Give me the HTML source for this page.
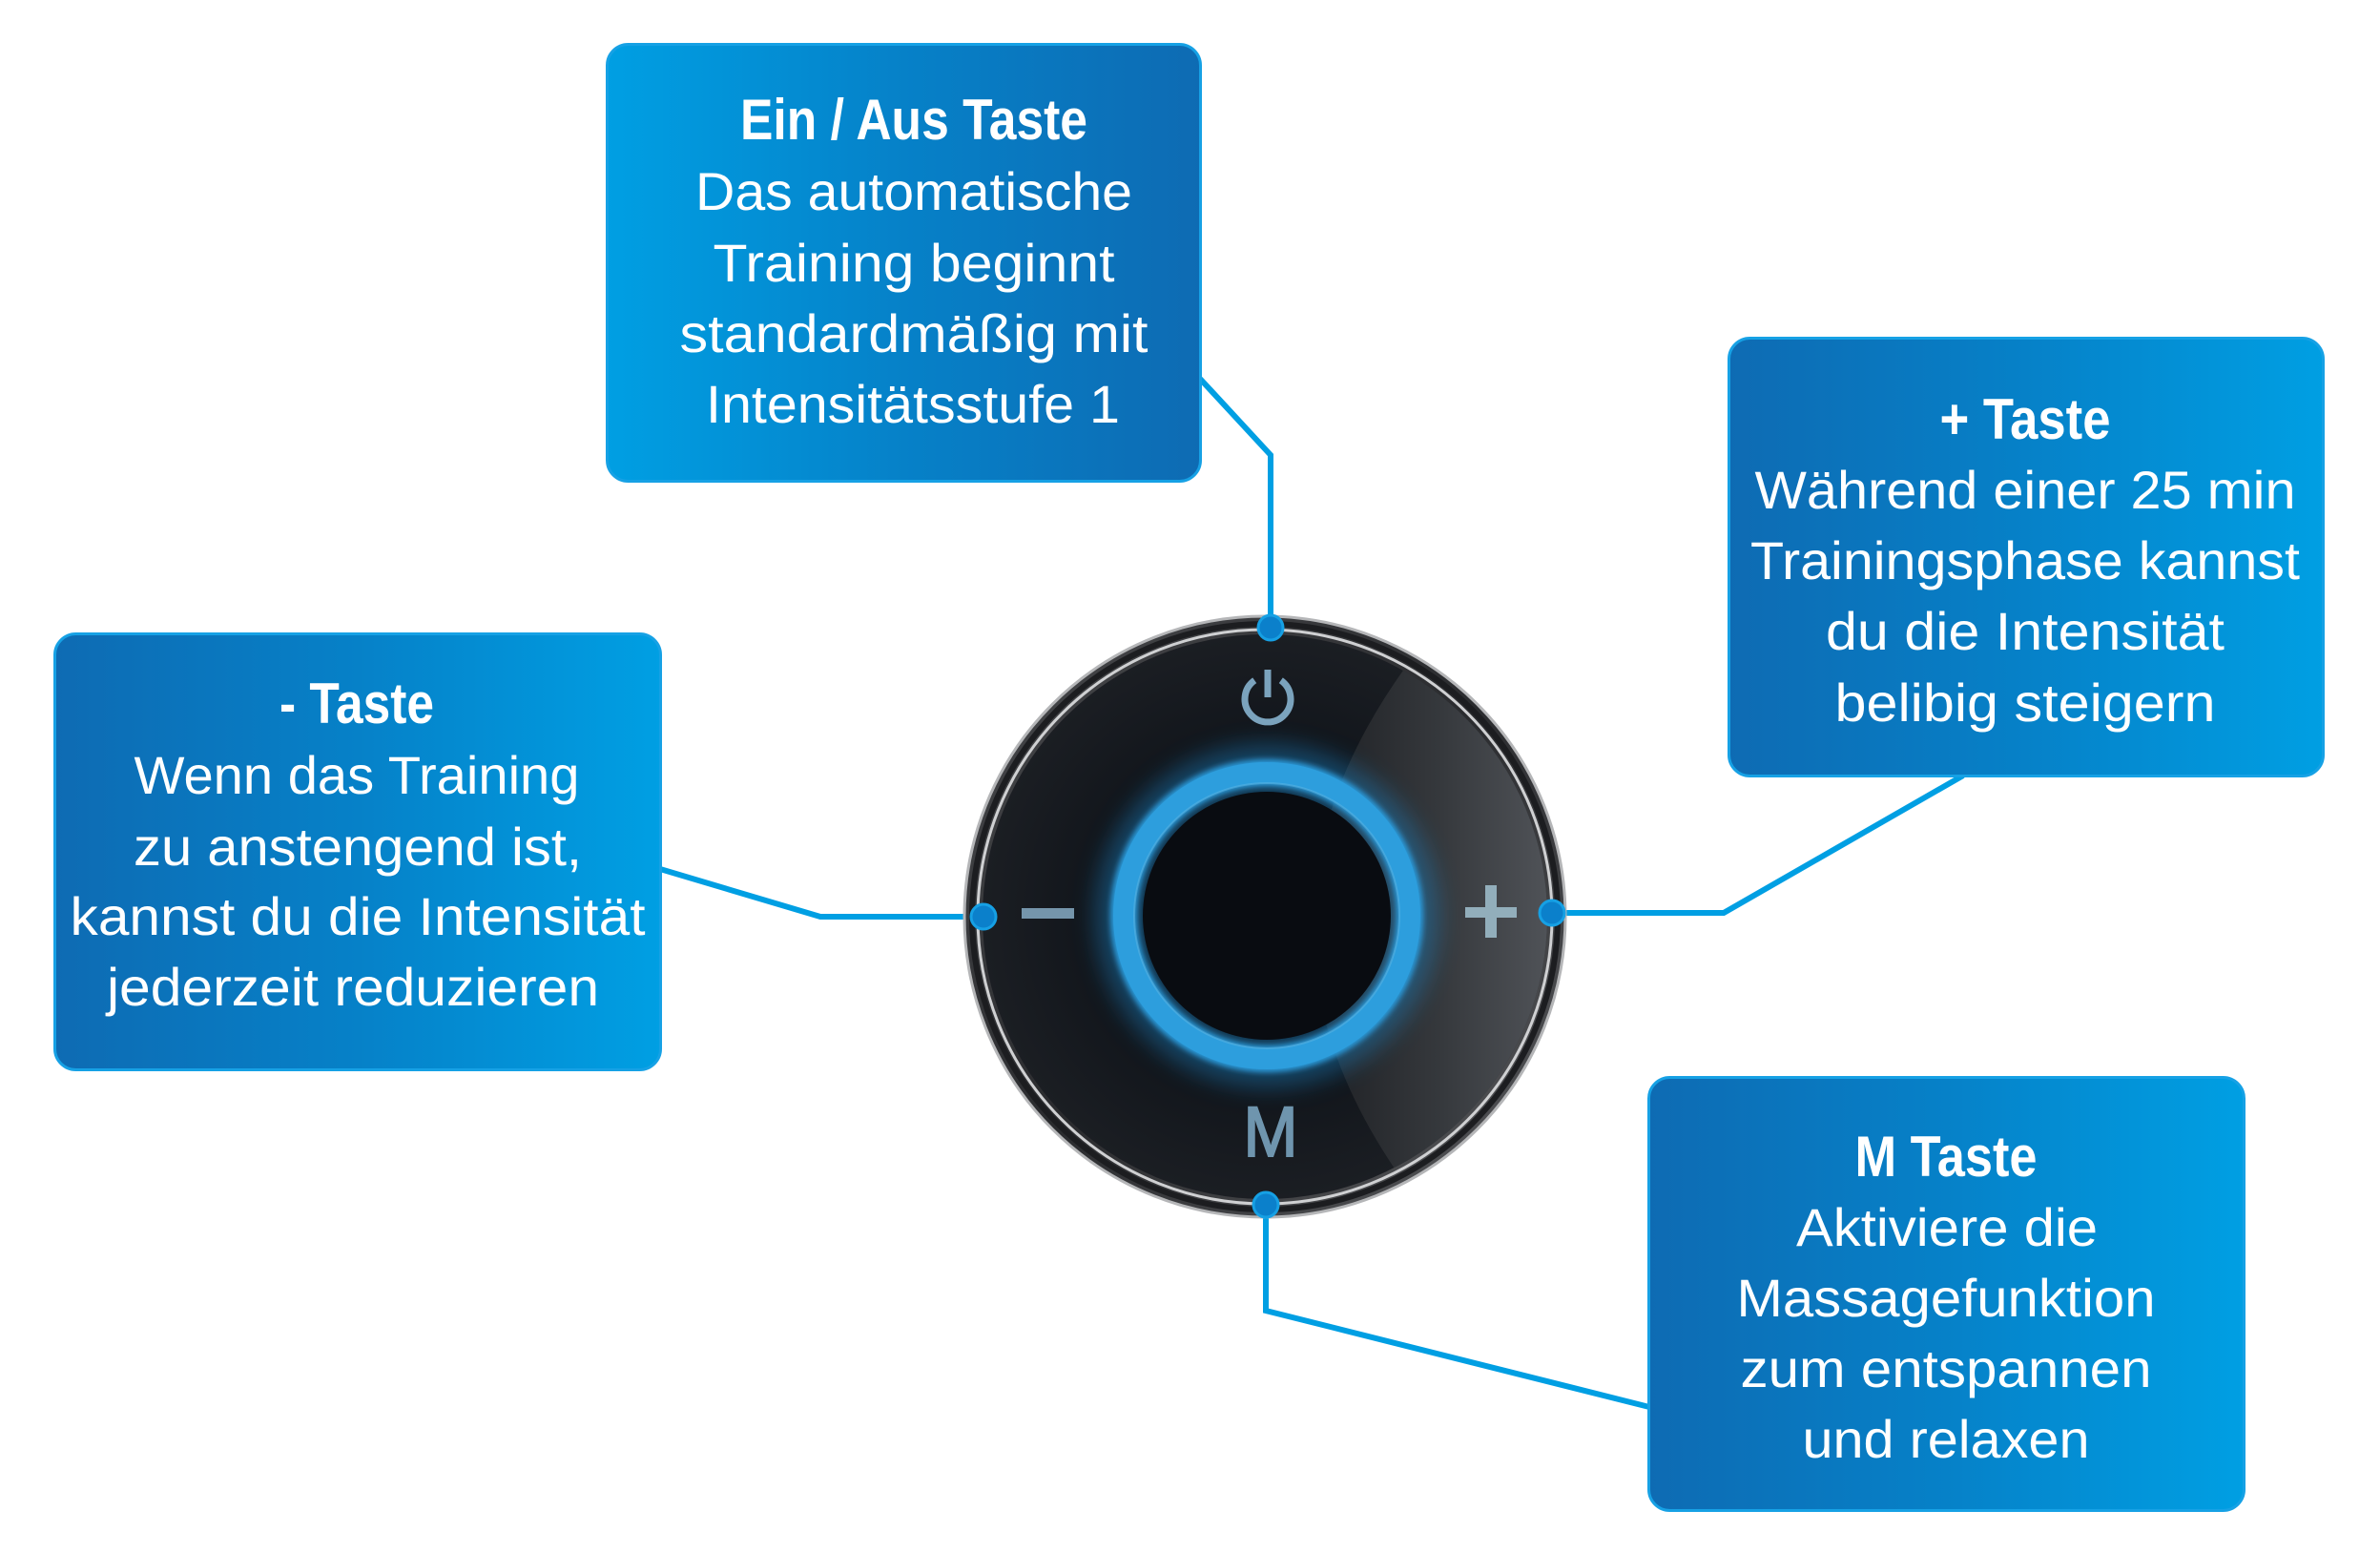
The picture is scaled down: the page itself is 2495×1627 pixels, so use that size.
<!DOCTYPE html>
<html>
<head>
<meta charset="utf-8">
<style>
html,body{margin:0;padding:0;background:#ffffff;}
body{width:2495px;height:1627px;overflow:hidden;}
svg{display:block;}
text{font-family:"Liberation Sans",sans-serif;fill:#ffffff;}
</style>
</head>
<body>
<svg width="2495" height="1627" viewBox="0 0 2495 1627" xmlns="http://www.w3.org/2000/svg">
<defs>
  <linearGradient id="gLR" x1="0" y1="0" x2="1" y2="0">
    <stop offset="0" stop-color="#0e6bb3"/>
    <stop offset="0.5" stop-color="#0681c8"/>
    <stop offset="1" stop-color="#009fe3"/>
  </linearGradient>
  <linearGradient id="gRL" x1="0" y1="0" x2="1" y2="0">
    <stop offset="0" stop-color="#009fe3"/>
    <stop offset="0.5" stop-color="#0681c8"/>
    <stop offset="1" stop-color="#0e6bb3"/>
  </linearGradient>
  <radialGradient id="face" cx="0.5" cy="0.5" r="0.5">
    <stop offset="0" stop-color="#0a0d12"/>
    <stop offset="0.6" stop-color="#11151b"/>
    <stop offset="1" stop-color="#1b1e23"/>
  </radialGradient>
  <linearGradient id="gloss" x1="1390" y1="0" x2="1625" y2="0" gradientUnits="userSpaceOnUse">
    <stop offset="0" stop-color="#202226"/>
    <stop offset="0.5" stop-color="#35383c"/>
    <stop offset="1" stop-color="#505358"/>
  </linearGradient>
  <linearGradient id="bezel" x1="0" y1="0" x2="1" y2="1">
    <stop offset="0" stop-color="#4a4b4e"/>
    <stop offset="0.5" stop-color="#2a2b2e"/>
    <stop offset="1" stop-color="#5a5b5e"/>
  </linearGradient>
  <clipPath id="faceClip"><circle cx="1326" cy="961" r="296"/></clipPath>
  <filter id="blur12" x="-50%" y="-50%" width="200%" height="200%"><feGaussianBlur stdDeviation="12"/></filter>
  <filter id="blur4" x="-50%" y="-50%" width="200%" height="200%"><feGaussianBlur stdDeviation="3"/></filter>
</defs>

<!-- Connectors -->
<g fill="none" stroke="#009fe3" stroke-width="6" stroke-linejoin="miter">
  <polyline points="1258,397 1332,477 1332,658"/>
  <polyline points="692,911 860,961 1031,961"/>
  <polyline points="1627,957 1807,957 2058,813"/>
  <polyline points="1327,1263 1327,1374 1729,1475"/>
</g>

<!-- Device -->
<circle cx="1326" cy="961" r="315" fill="url(#bezel)" stroke="#b5b6b8" stroke-width="3"/>
<circle cx="1326" cy="961" r="307" fill="none" stroke="#1c1d20" stroke-width="6"/>
<circle cx="1326" cy="961" r="301" fill="none" stroke="#cfd0d2" stroke-width="3"/>
<circle cx="1326" cy="961" r="296" fill="url(#face)"/>
<g clip-path="url(#faceClip)">
  <path d="M1473,700 Q1285,962 1462,1225 L1700,1225 L1700,700 Z" fill="url(#gloss)"/>
  <path d="M1473,700 Q1285,962 1462,1225 L1700,1260 L1700,660 Z" fill="url(#gloss)" opacity="0.5"/>
</g>
<!-- ring glow -->
<circle cx="1328" cy="960" r="150" fill="none" stroke="#1e88cc" stroke-width="60" opacity="0.42" filter="url(#blur12)"/>
<circle cx="1328" cy="960" r="130" fill="#090c11"/>
<circle cx="1328" cy="960" r="150" fill="none" stroke="#2a9ad9" stroke-width="28" filter="url(#blur4)"/>
<circle cx="1328" cy="960" r="150" fill="none" stroke="#2d9edd" stroke-width="22"/>
<circle cx="1328" cy="960" r="139" fill="none" stroke="#5fb7e6" stroke-width="2" opacity="0.5"/>

<!-- icons -->
<path d="M1342.8,713.3 A24 24 0 1 1 1315.2,713.3" fill="none" stroke="#7ba3bd" stroke-width="7"/>
<line x1="1329" y1="702" x2="1329" y2="731" stroke="#7ba3bd" stroke-width="7"/>
<rect x="1071" y="952" width="55" height="11" fill="#7595ab"/>
<rect x="1536" y="951" width="54" height="11" fill="#92aebb"/>
<rect x="1557" y="928" width="12" height="55" fill="#92aebb"/>
<text x="1332" y="1212" text-anchor="middle" font-size="74" textLength="57" lengthAdjust="spacingAndGlyphs" style="fill:#6f95ae;stroke:#6f95ae;stroke-width:2">M</text>

<!-- Dots -->
<g fill="#0b80cb" stroke="#16a0e4" stroke-width="3">
  <circle cx="1332" cy="658" r="13"/>
  <circle cx="1031" cy="961" r="13"/>
  <circle cx="1627" cy="957" r="13"/>
  <circle cx="1327" cy="1263" r="13"/>
</g>

<!-- Boxes -->
<rect x="636.5" y="46.5" width="622" height="458" rx="22" fill="url(#gRL)" stroke="#16a1e5" stroke-width="3"/>
<rect x="57.5" y="664.5" width="635" height="457" rx="22" fill="url(#gLR)" stroke="#16a1e5" stroke-width="3"/>
<rect x="1812.5" y="354.5" width="623" height="459" rx="22" fill="url(#gLR)" stroke="#16a1e5" stroke-width="3"/>
<rect x="1728.5" y="1129.5" width="624" height="454" rx="22" fill="url(#gLR)" stroke="#16a1e5" stroke-width="3"/>

<!-- Top box text -->
<g text-anchor="middle">
  <text x="958" y="146" font-size="60" font-weight="bold" textLength="364" lengthAdjust="spacingAndGlyphs">Ein / Aus Taste</text>
  <text x="958" y="220" font-size="56" textLength="458" lengthAdjust="spacingAndGlyphs">Das automatische</text>
  <text x="958" y="295" font-size="56" textLength="421" lengthAdjust="spacingAndGlyphs">Training beginnt</text>
  <text x="958" y="369" font-size="56" textLength="491" lengthAdjust="spacingAndGlyphs">standardmäßig mit</text>
  <text x="957" y="443" font-size="56" textLength="434" lengthAdjust="spacingAndGlyphs">Intensitätsstufe 1</text>
</g>

<!-- Left box text -->
<g text-anchor="middle">
  <text x="374" y="758" font-size="60" font-weight="bold" textLength="162" lengthAdjust="spacingAndGlyphs">- Taste</text>
  <text x="374" y="832" font-size="56" textLength="467" lengthAdjust="spacingAndGlyphs">Wenn das Training</text>
  <text x="375" y="907" font-size="56" textLength="470" lengthAdjust="spacingAndGlyphs">zu anstengend ist,</text>
  <text x="375" y="980" font-size="56" textLength="603" lengthAdjust="spacingAndGlyphs">kannst du die Intensität</text>
  <text x="370" y="1054" font-size="56" textLength="516" lengthAdjust="spacingAndGlyphs">jederzeit reduzieren</text>
</g>

<!-- Right box text -->
<g text-anchor="middle">
  <text x="2123" y="460" font-size="60" font-weight="bold" textLength="179" lengthAdjust="spacingAndGlyphs">+ Taste</text>
  <text x="2123" y="533" font-size="56" textLength="567" lengthAdjust="spacingAndGlyphs">Während einer 25 min</text>
  <text x="2123" y="607" font-size="56" textLength="576" lengthAdjust="spacingAndGlyphs">Trainingsphase kannst</text>
  <text x="2123" y="681" font-size="56" textLength="418" lengthAdjust="spacingAndGlyphs">du die Intensität</text>
  <text x="2123" y="756" font-size="56" textLength="399" lengthAdjust="spacingAndGlyphs">belibig steigern</text>
</g>

<!-- M box text -->
<g text-anchor="middle">
  <text x="2040" y="1233" font-size="60" font-weight="bold" textLength="191" lengthAdjust="spacingAndGlyphs">M Taste</text>
  <text x="2041" y="1306" font-size="56" textLength="316" lengthAdjust="spacingAndGlyphs">Aktiviere die</text>
  <text x="2040" y="1380" font-size="56" textLength="439" lengthAdjust="spacingAndGlyphs">Massagefunktion</text>
  <text x="2040" y="1454" font-size="56" textLength="431" lengthAdjust="spacingAndGlyphs">zum entspannen</text>
  <text x="2040" y="1528" font-size="56" textLength="301" lengthAdjust="spacingAndGlyphs">und relaxen</text>
</g>
</svg>
</body>
</html>
